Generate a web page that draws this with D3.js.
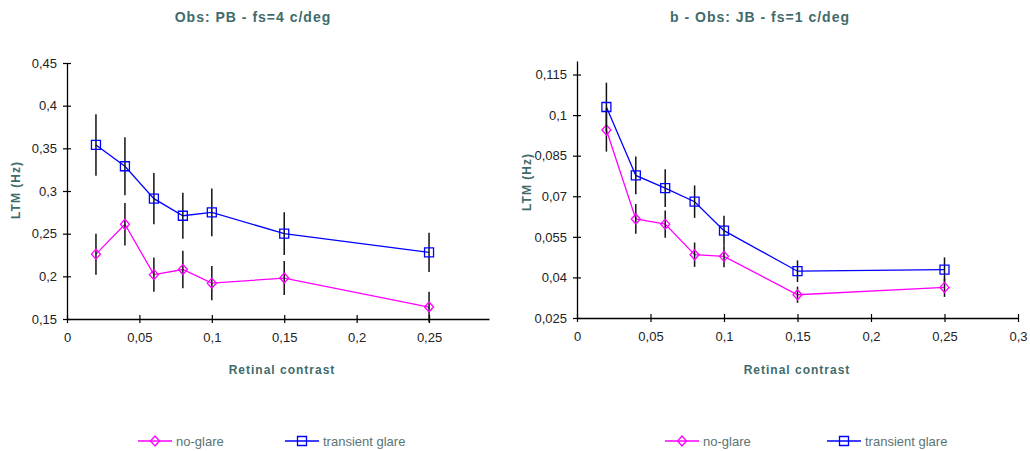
<!DOCTYPE html>
<html>
<head>
<meta charset="utf-8">
<script src="https://cdn.jsdelivr.net/npm/d3@7/dist/d3.min.js"></script>
<style>
  body { margin: 0; background: #fff; }
  svg { font-family: "Liberation Sans", Arial, sans-serif; }
</style>
</head>
<body>
<svg id="chart" width="1030" height="451"></svg>
<script>
// contrast levels (x)
const contrast = [0.02, 0.04, 0.06, 0.08, 0.1, 0.15, 0.25];

// panel a - Obs PB
const pbNoGlare = [0.226, 0.261, 0.202, 0.208, 0.192, 0.198, 0.164];
const pbNoGlareErr = [0.024, 0.025, 0.020, 0.022, 0.020, 0.020, 0.018];
const pbTransient = [0.354, 0.329, 0.291, 0.271, 0.275, 0.250, 0.228];
const pbTransientErr = [0.036, 0.034, 0.030, 0.027, 0.028, 0.025, 0.023];

// panel b - Obs JB
const jbNoGlare = [0.0945, 0.0616, 0.0597, 0.0484, 0.0478, 0.0336, 0.0363];
const jbNoGlareErr = [0.008, 0.0055, 0.005, 0.0045, 0.004, 0.003, 0.0035];
const jbTransient = [0.103, 0.0777, 0.073, 0.068, 0.0573, 0.0423, 0.0429];
const jbTransientErr = [0.009, 0.007, 0.007, 0.006, 0.0055, 0.004, 0.0045];

// tick labels
const pbYTicks = [0.15, 0.2, 0.25, 0.3, 0.35, 0.4, 0.45];
const pbXTicks = [0, 0.05, 0.1, 0.15, 0.2, 0.25];
const jbYTicks = [0.025, 0.04, 0.055, 0.07, 0.085, 0.1, 0.115];
const jbXTicks = [0, 0.05, 0.1, 0.15, 0.2, 0.25, 0.3];

const svg = d3.select("#chart");
const teal = "#3f6b6b";
const fmt = d => String(d).replace(".", ",");

const panels = [
  {
    title: "Obs: PB - fs=4 c/deg", titleX: 253,
    left: 67, right: 489, top: 63, bottom: 319,
    xDomain: [0, 0.2914], yDomain: [0.15, 0.45],
    xTicks: pbXTicks, yTicks: pbYTicks,
    series: [
      { name: "no-glare", vals: pbNoGlare, err: pbNoGlareErr, color: "#ff00ff", marker: "diamond" },
      { name: "transient glare", vals: pbTransient, err: pbTransientErr, color: "#0000ff", marker: "square" }
    ],
    ylabelX: 20, ylabelY: 190, xlabelX: 282,
    legend: [138, 285]
  },
  {
    title: "b - Obs: JB - fs=1 c/deg", titleX: 760,
    left: 577, right: 1018, top: 61, bottom: 318,
    xDomain: [0, 0.3], yDomain: [0.025, 0.12],
    xTicks: jbXTicks, yTicks: jbYTicks,
    series: [
      { name: "no-glare", vals: jbNoGlare, err: jbNoGlareErr, color: "#ff00ff", marker: "diamond" },
      { name: "transient glare", vals: jbTransient, err: jbTransientErr, color: "#0000ff", marker: "square" }
    ],
    ylabelX: 531, ylabelY: 182, xlabelX: 797,
    legend: [665, 827]
  }
];

const markerPath = (type, x, y) => {
  if (type === "square") {
    return `M${x - 4.5},${y - 4.5}h9v9h-9z`;
  }
  return `M${x},${y - 5}L${x + 4.5},${y}L${x},${y + 5}L${x - 4.5},${y}z`;
};

panels.forEach(p => {
  const x = d3.scaleLinear().domain(p.xDomain).range([p.left, p.right]);
  const y = d3.scaleLinear().domain(p.yDomain).range([p.bottom, p.top]);
  const g = svg.append("g");

  // axes
  const yAxis = d3.axisLeft(y).tickValues(p.yTicks).tickFormat(fmt).tickSizeInner(4).tickSizeOuter(0).tickPadding(6);
  const yg = g.append("g").attr("transform", `translate(${p.left},0)`).call(yAxis);
  const xAxis = d3.axisBottom(x).tickValues(p.xTicks).tickFormat(fmt).tickSizeInner(4).tickSizeOuter(0).tickPadding(10);
  const xg = g.append("g").attr("transform", `translate(0,${p.bottom})`).call(xAxis);

  [yg, xg].forEach(a => {
    a.select(".domain").attr("stroke", "#000").attr("stroke-width", 1.3);
    a.selectAll(".tick line").attr("stroke", "#000").attr("stroke-width", 1.2);
    a.selectAll("text").attr("font-size", 13).attr("fill", "#222");
  });
  // ticks cross the axes
  yg.selectAll(".tick line").attr("x1", 4);
  xg.selectAll(".tick line").attr("y1", -4);

  // series
  p.series.forEach(s => {
    const pts = contrast.map((c, i) => ({ c, v: s.vals[i], e: s.err[i] }));

    g.append("path")
      .datum(pts)
      .attr("fill", "none")
      .attr("stroke", s.color)
      .attr("stroke-width", 1.3)
      .attr("d", d3.line().x(d => x(d.c)).y(d => y(d.v)));

    g.selectAll(null)
      .data(pts)
      .join("line")
      .attr("x1", d => x(d.c)).attr("x2", d => x(d.c))
      .attr("y1", d => y(d.v + d.e)).attr("y2", d => y(d.v - d.e))
      .attr("stroke", "#111")
      .attr("stroke-width", 1.5);

    g.selectAll(null)
      .data(pts)
      .join("path")
      .attr("d", d => markerPath(s.marker, x(d.c), y(d.v)))
      .attr("fill", "none")
      .attr("stroke", s.color)
      .attr("stroke-width", 1.3);
  });

  // titles and labels
  g.append("text")
    .attr("x", p.titleX).attr("y", 22)
    .attr("text-anchor", "middle")
    .attr("font-size", 14).attr("font-weight", "bold")
    .attr("letter-spacing", 1)
    .attr("fill", teal)
    .text(p.title);

  g.append("text")
    .attr("transform", `translate(${p.ylabelX},${p.ylabelY}) rotate(-90)`)
    .attr("text-anchor", "middle")
    .attr("font-size", 12).attr("font-weight", "bold")
    .attr("letter-spacing", 1)
    .attr("fill", teal)
    .text("LTM (Hz)");

  g.append("text")
    .attr("x", p.xlabelX).attr("y", 374)
    .attr("text-anchor", "middle")
    .attr("font-size", 12).attr("font-weight", "bold")
    .attr("letter-spacing", 1)
    .attr("fill", teal)
    .text("Retinal contrast");

  // legend
  p.series.forEach((s, i) => {
    const lx = p.legend[i];
    const ly = 441;
    g.append("line")
      .attr("x1", lx).attr("x2", lx + 34)
      .attr("y1", ly).attr("y2", ly)
      .attr("stroke", s.color).attr("stroke-width", 1.3);
    g.append("path")
      .attr("d", markerPath(s.marker, lx + 17, ly))
      .attr("fill", "none")
      .attr("stroke", s.color).attr("stroke-width", 1.3);
    g.append("text")
      .attr("x", lx + 38).attr("y", ly + 5)
      .attr("font-size", 13)
      .attr("fill", "#5b7474")
      .text(s.name);
  });
});
</script>
</body>
</html>
